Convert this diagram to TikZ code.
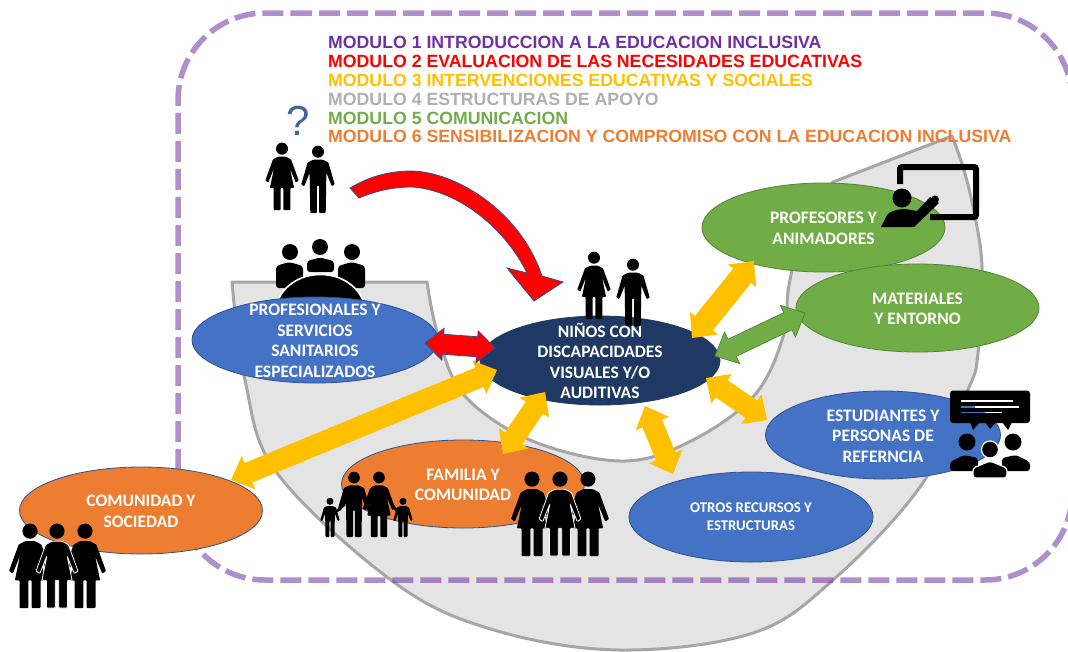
\documentclass[tikz,border=0pt]{standalone}
\usepackage{fontspec}
\setmainfont{Liberation Sans}
\newfontfamily\carlito{Carlito}
\usetikzlibrary{shapes.geometric,calc}
\definecolor{mpurple}{HTML}{7030A0}
\definecolor{myellow}{HTML}{FFC000}
\definecolor{mgray}{HTML}{AFAFAF}
\definecolor{mgreen}{HTML}{70AD47}
\definecolor{morange}{HTML}{ED7D31}
\definecolor{mblue}{HTML}{4472C4}
\definecolor{mnavy}{HTML}{1F3864}
\definecolor{medgeblue}{HTML}{2F528F}
\definecolor{bandfill}{HTML}{E4E4E4}
\definecolor{bandedge}{HTML}{A6A6A6}
\newcommand\Lbl[3][-7.5pt]{\smash{\makebox[0pt]{\fontsize{#2}{#2}\selectfont\raisebox{#1}{\begin{tabular}[c]{@{}c@{}}#3\end{tabular}}}}}
% double block arrow: style, end A, end B, half shaft, half head, head length
\newcommand\DArrow[6]{\draw[#1] (#2) -- ($(#2)!#6!(#3)!#5!90:(#3)$) -- ($(#2)!#6!(#3)!#4!90:(#3)$) -- ($(#3)!#6!(#2)!#4!-90:(#2)$) -- ($(#3)!#6!(#2)!#5!-90:(#2)$) -- (#3) -- ($(#3)!#6!(#2)!#5!90:(#2)$) -- ($(#3)!#6!(#2)!#4!90:(#2)$) -- ($(#2)!#6!(#3)!#4!-90:(#3)$) -- ($(#2)!#6!(#3)!#5!-90:(#3)$) -- cycle;}
% silhouettes: x, y of head top, scale, extra style
\newcommand\Fwoman[4]{\begin{scope}[shift={(#1,#2)},scale=#3]
\fill[black,rounded corners=.8pt,#4] (-12,41) -- (12,41) -- (27,49) -- (50,112) -- (41,118) -- (24,76) -- (36,134) -- (25,134) -- (25,200) -- (4,200) -- (4,134) -- (-4,134) -- (-4,200) -- (-25,200) -- (-25,134) -- (-36,134) -- (-24,76) -- (-41,118) -- (-50,112) -- (-27,49) -- cycle;
\fill[black] (0,17) circle[radius=18];
\end{scope}}
\newcommand\Mman[4]{\begin{scope}[shift={(#1,#2)},scale=#3]
\fill[black,rounded corners=.8pt,#4] (-14,41) -- (14,41) -- (31,49) -- (50,115) -- (41,120) -- (25,80) -- (23,200) -- (3,200) -- (3,118) -- (-3,118) -- (-3,200) -- (-23,200) -- (-25,80) -- (-41,120) -- (-50,115) -- (-31,49) -- cycle;
\fill[black] (0,17) circle[radius=18];
\end{scope}}
\tikzset{
  bubble/.style={ellipse,inner sep=0pt,line width=.8pt,text=white,font=\carlito\bfseries},
  bluebub/.style={bubble,fill=mblue,draw=medgeblue},
  greenbub/.style={bubble,fill=mgreen,draw=mgreen!75!black},
  orangebub/.style={bubble,fill=morange,draw=medgeblue},
  navybub/.style={bubble,fill=mnavy,draw=mnavy},
  modline/.style={anchor=base west,font=\bfseries\fontsize{17.7}{17.7}\selectfont,inner sep=0pt},
  yellowarrow/.style={fill=myellow,draw=none},
  greenarrow/.style={fill=mgreen,draw=mgreen!75!black,line width=.7pt},
  redarrow/.style={fill=red,draw=medgeblue,line width=.8pt},
  band/.style={fill=bandfill,draw=bandedge,line width=3pt,line join=round},
  frameline/.style={draw=mpurple,draw opacity=.55,line width=5.5pt,dash pattern=on 21pt off 7pt,dash phase=9pt,rounded corners=87pt}
}
\begin{document}
\begin{tikzpicture}[x=1pt,y=-1pt]
\useasboundingbox (0,0) rectangle (1068,651);
\clip (0,0) rectangle (1068,651);
% grey band
\draw[band] (232,282) -- (427,282) -- plot[smooth,tension=.6] coordinates {(427,282) (438,335) (464,395) (530,440) (620,461) (687,443) (753,397) (783,337) (789,285) (805,225) (833,182)} -- (952,136) -- plot[smooth,tension=.6] coordinates {(952,136) (963,167) (973,207) (982,267) (978,353) (967,392) (920,487) (833,580) (753,633) (620,650) (494,630) (395,583) (277,473) (245,380) (232,282)} -- cycle;
% dashed frame
\draw[frameline] (300,13) -- (1072,13) -- (1072,580) -- (178,580) -- (178,13) -- (300,13);
% module titles
\node[modline,text=mpurple] (m1) at (328,48) {MODULO 1 INTRODUCCION A LA EDUCACION INCLUSIVA};
\node[modline,text=red] (m2) at (328,67) {MODULO 2 EVALUACION DE LAS NECESIDADES EDUCATIVAS};
\node[modline,text=myellow] (m3) at (328,86) {MODULO 3 INTERVENCIONES EDUCATIVAS Y SOCIALES};
\node[modline,text=mgray] (m4) at (328,105) {MODULO 4 ESTRUCTURAS DE APOYO};
\node[modline,text=mgreen] (m5) at (328,124) {MODULO 5 COMUNICACION};
\node[modline,text=morange] (m6) at (328,142) {MODULO 6 SENSIBILIZACION Y COMPROMISO CON LA EDUCACION INCLUSIVA};
\node[text=medgeblue!90!white,font=\fontsize{42}{42}\selectfont,inner sep=0pt] (qm) at (298,121) {?};
% conference icon
\fill (290,252) circle[radius=8] (320,247) circle[radius=8] (352,252) circle[radius=8];
\fill[rounded corners=3pt] (276,288) -- (276,266) -- (289,262) -- (303,266) -- (303,288) -- cycle;
\fill[rounded corners=3pt] (307,272) -- (307,261) -- (320,257.5) -- (334,261) -- (334,272) -- cycle;
\fill[rounded corners=3pt] (338,288) -- (338,266) -- (352,262) -- (365,266) -- (365,288) -- cycle;
\draw[white,line width=1.6pt,fill=black] (276,306) .. controls (281,287) and (299,274.5) .. (320.5,274.5) .. controls (342,274.5) and (360,287) .. (365,306) -- cycle;
% nodes
\node[bluebub,minimum width=246pt,minimum height=86pt] (prof) at (315,340) {\Lbl{17.5}{PROFESIONALES Y\\[3pt]SERVICIOS\\[3pt]SANITARIOS\\[3pt]ESPECIALIZADOS}};
\node[navybub,minimum width=240pt,minimum height=89pt] (nino) at (600,360.5) {\Lbl{17.5}{NIÑOS CON\\[3pt]DISCAPACIDADES\\[3pt]VISUALES Y/O\\[3pt]AUDITIVAS}};
\node[greenbub,minimum width=243pt,minimum height=89pt] (teach) at (823.5,227.5) {\Lbl{17.5}{PROFESORES Y\\[3pt]ANIMADORES}};
\node[greenbub,minimum width=243pt,minimum height=88pt] (mat) at (917.5,308) {\Lbl{17.5}{MATERIALES\\[3pt]Y ENTORNO}};
\node[bluebub,minimum width=235pt,minimum height=88pt] (est) at (883,435) {\Lbl{17.5}{ESTUDIANTES Y\\[3pt]PERSONAS DE\\[3pt]REFERNCIA}};
\node[bluebub,minimum width=244pt,minimum height=90pt] (otros) at (751,517) {\Lbl[-5pt]{14.8}{OTROS RECURSOS Y\\[3pt]ESTRUCTURAS}};
\node[orangebub,minimum width=243pt,minimum height=88pt] (fam) at (463,484) {\Lbl{17.5}{FAMILIA Y\\[3pt]COMUNIDAD}};
\node[orangebub,minimum width=243pt,minimum height=87pt] (com) at (141,510.5) {\Lbl{17.5}{COMUNIDAD Y\\[3pt]SOCIEDAD}};
% connector ends
\coordinate (rA) at ($(prof.center)+(110,3)$);
\coordinate (rB) at ($(nino.center)+(-105,-12.5)$);
\coordinate (yA) at ($(com.center)+(90,-30.5)$);
\coordinate (yB) at ($(nino.center)+(-103,9.5)$);
\coordinate (fA) at ($(fam.center)+(40,-30)$);
\coordinate (fB) at ($(nino.center)+(-55,31.5)$);
\coordinate (oA) at ($(otros.center)+(-78,-43)$);
\coordinate (oB) at ($(nino.center)+(45,45.5)$);
\coordinate (eA) at ($(est.center)+(-116,-15)$);
\coordinate (eB) at ($(nino.center)+(106,17.5)$);
\coordinate (tA) at ($(teach.center)+(-69.5,33.5)$);
\coordinate (tB) at ($(nino.center)+(92,-22.5)$);
\coordinate (gA) at ($(mat.center)+(-112.5,5)$);
\coordinate (gB) at ($(nino.center)+(115,-4.5)$);
% block arrows
\DArrow{yellowarrow}{yA}{yB}{10.5pt}{18pt}{19pt}
\DArrow{yellowarrow}{fA}{fB}{10.5pt}{18pt}{19pt}
\DArrow{yellowarrow}{oA}{oB}{10.5pt}{18pt}{19pt}
\DArrow{yellowarrow}{eA}{eB}{10.5pt}{18pt}{19pt}
\DArrow{yellowarrow}{tA}{tB}{11.5pt}{18pt}{19pt}
\DArrow{greenarrow}{gA}{gB}{9.5pt}{17.5pt}{19pt}
\DArrow{redarrow}{rA}{rB}{10pt}{16pt}{18pt}
% curved red arrow
\draw[redarrow,line join=miter] (350,188) .. controls (370,176) and (390,171) .. (412,171) .. controls (455,172) and (520,210) .. (542,276) -- (563,282) -- (534,301) -- (507,268) -- (527,273) .. controls (505,228) and (458,190) .. (412,187) .. controls (395,187) and (378,190) .. (359,198) -- cycle;
% couples
\Fwoman{282}{143}{.335}{}
\Mman{318}{146}{.335}{}
\Fwoman{594}{252}{.335}{}
\Mman{633}{259}{.335}{}
% community group
\Fwoman{30}{524}{.42}{}
\Fwoman{85}{524}{.42}{}
\Fwoman{57}{524}{.42}{draw=white,line width=.8pt}
% family group
\Fwoman{532}{472}{.42}{}
\Fwoman{588}{472}{.42}{}
\Fwoman{560}{472}{.42}{draw=white,line width=.8pt}
% family of four
\Mman{354}{472}{.325}{}
\Fwoman{379}{472}{.325}{}
\Mman{330}{498}{.195}{}
\Mman{403}{498}{.195}{}
\draw[line width=2.6pt,line cap=round,line join=round] (337,511) -- (344,505) -- (349,490);
\draw[line width=2.6pt,line cap=round,line join=round] (361,490) -- (367,508) -- (373,490);
\draw[line width=2.6pt,line cap=round,line join=round] (386,490) -- (391,503) -- (397,511);
% teacher icon
\draw[line width=6pt,rounded corners=2pt] (900,184) -- (900,167) -- (976,167) -- (976,217) -- (930,217);
\fill (902,198) circle[radius=9.5];
\fill (881,227) -- (887,215) .. controls (890,211) and (898,209) .. (905,209) -- (917,211) -- (930,197) -- (939,203) -- (914,227) -- cycle;
\fill (935,199.5) circle[radius=4];
% discussion icon
\fill[rounded corners=3pt] (950,390.5) rectangle (1030,423);
\fill (970,422) -- (980,422) -- (973,430) -- cycle (985,422) -- (996,422) -- (990,429) -- cycle (1002,422) -- (1012,422) -- (1008,430) -- cycle;
\draw[white,line width=1.3pt] (961,401) -- (1013,401) (961,407) -- (1019,407) (961,412.5) -- (1002,412.5);
\draw[mblue,line width=1.3pt] (961,407) -- (975,407) (961,412.5) -- (985,412.5);
\fill (967,442) circle[radius=8.5] (1013,442) circle[radius=8.5];
\fill[rounded corners=3pt] (950,471) -- (950,462) -- (964,455) -- (978,458) -- (978,471) -- cycle;
\fill[rounded corners=3pt] (1002,471) -- (1002,458) -- (1016,455) -- (1030,462) -- (1030,471) -- cycle;
\draw[white,line width=1.2pt,fill=black] (990,449.5) circle[radius=8.5];
\draw[white,line width=1.2pt,fill=black,rounded corners=3pt] (973,478) -- (973,468) -- (990,461) -- (1007,468) -- (1007,478) -- cycle;
\end{tikzpicture}
\end{document}
